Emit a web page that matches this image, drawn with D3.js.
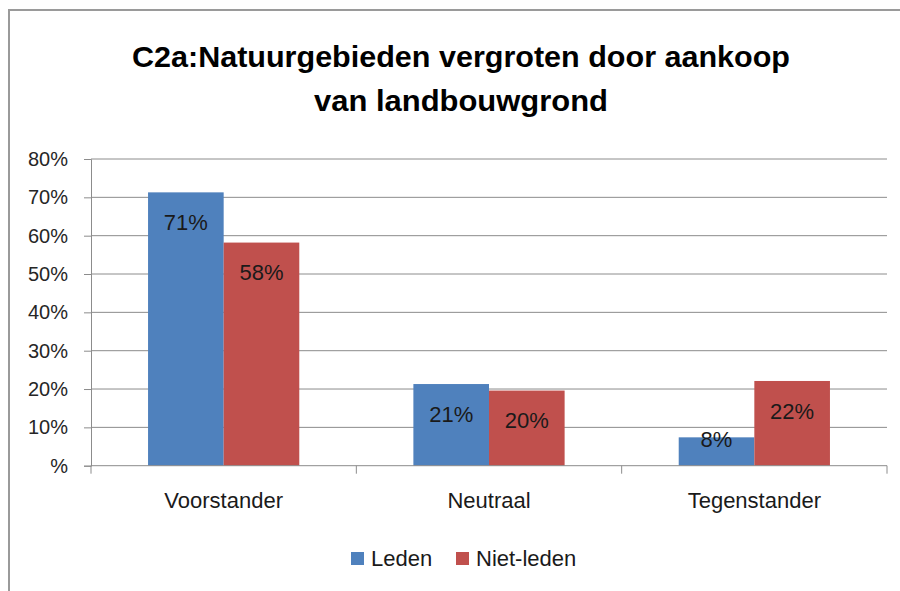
<!DOCTYPE html>
<html>
<head>
<meta charset="utf-8">
<script src="https://cdn.jsdelivr.net/npm/d3@7"></script>
<style>
  body { margin: 0; background: #fff; }
  svg { display: block; font-family: "Liberation Sans", Arial, sans-serif; }
</style>
</head>
<body>
<div id="chart"></div>
<script>
var categories = ["Voorstander", "Neutraal", "Tegenstander"],
    seriesNames = ["Leden", "Niet-leden"],
    leden = [71.3, 21.3, 7.4],
    nietLeden = [58.2, 19.6, 22.1],
    ledenLabels = ["71%", "21%", "8%"],
    nietLedenLabels = ["58%", "20%", "22%"],
    yTicks = [0, 10, 20, 30, 40, 50, 60, 70, 80],
    yTickLabels = ["%", "10%", "20%", "30%", "40%", "50%", "60%", "70%", "80%"],
    colors = ["#4f81bd", "#c0504d"];

var width = 900, height = 591,
    plot = { left: 91, right: 887, top: 159, bottom: 465.7 };

var svg = d3.select("#chart").append("svg")
    .attr("width", width)
    .attr("height", height);

// outer frame (only top and left visible in the picture)
svg.append("path")
    .attr("d", "M9,591 V10 H900")
    .attr("fill", "none")
    .attr("stroke", "#9a9a9a")
    .attr("stroke-width", 2);

// title
var titleLines = [
    { text: "C2a:Natuurgebieden vergroten door aankoop", y: 67, len: 658 },
    { text: "van landbouwgrond", y: 111, len: 294 }
];
svg.selectAll(".title")
    .data(titleLines)
    .enter().append("text")
    .attr("class", "title")
    .attr("x", 461)
    .attr("y", function (d) { return d.y; })
    .attr("text-anchor", "middle")
    .attr("font-size", 30)
    .attr("font-weight", "bold")
    .attr("fill", "#000")
    .attr("textLength", function (d) { return d.len; })
    .attr("lengthAdjust", "spacingAndGlyphs")
    .text(function (d) { return d.text; });

var x0 = d3.scaleBand()
    .domain(categories)
    .range([plot.left, plot.right])
    .paddingInner(0.43)
    .paddingOuter(0.215);

var x1 = d3.scaleBand()
    .domain(seriesNames)
    .range([0, x0.bandwidth()]);

var y = d3.scaleLinear()
    .domain([0, 80])
    .range([plot.bottom, plot.top]);

// gridlines
svg.append("g")
    .selectAll("line")
    .data(yTicks.slice(1))
    .enter().append("line")
    .attr("x1", plot.left)
    .attr("x2", plot.right)
    .attr("y1", function (d) { return y(d); })
    .attr("y2", function (d) { return y(d); })
    .attr("stroke", "#8c8c8c")
    .attr("stroke-width", 1);

// y axis
var yAxis = svg.append("g")
    .attr("transform", "translate(" + plot.left + ",0)")
    .call(d3.axisLeft(y)
        .tickValues(yTicks)
        .tickSize(7)
        .tickPadding(16)
        .tickFormat(function (d, i) { return yTickLabels[i]; }));
yAxis.select(".domain").attr("stroke", "#8c8c8c");
yAxis.selectAll(".tick line").attr("stroke", "#8c8c8c");
yAxis.selectAll(".tick text")
    .attr("font-size", 20)
    .attr("font-family", "Liberation Sans, Arial, sans-serif")
    .attr("fill", "#262626");

// bars
var rows = categories.map(function (c, i) {
    return [
        { cat: c, series: seriesNames[0], value: leden[i], label: ledenLabels[i], color: colors[0] },
        { cat: c, series: seriesNames[1], value: nietLeden[i], label: nietLedenLabels[i], color: colors[1] }
    ];
});

var groups = svg.selectAll(".group")
    .data(rows)
    .enter().append("g")
    .attr("class", "group")
    .attr("transform", function (d) { return "translate(" + x0(d[0].cat) + ",0)"; });

groups.selectAll("rect")
    .data(function (d) { return d; })
    .enter().append("rect")
    .attr("x", function (d) { return x1(d.series); })
    .attr("width", x1.bandwidth())
    .attr("y", function (d) { return y(d.value); })
    .attr("height", function (d) { return y(0) - y(d.value); })
    .attr("fill", function (d) { return d.color; });

groups.selectAll(".label")
    .data(function (d) { return d; })
    .enter().append("text")
    .attr("class", "label")
    .attr("x", function (d) { return x1(d.series) + x1.bandwidth() / 2; })
    .attr("y", function (d) { return Math.min(y(d.value) + 30, y(0) - 26); })
    .attr("dy", "0.35em")
    .attr("text-anchor", "middle")
    .attr("font-size", 22)
    .attr("fill", "#1a1a1a")
    .text(function (d) { return d.label; });

// x axis
var xAxis = svg.append("g")
    .attr("transform", "translate(0," + plot.bottom + ")");
xAxis.append("line")
    .attr("x1", plot.left)
    .attr("x2", plot.right)
    .attr("stroke", "#8c8c8c");
var edges = d3.range(categories.length + 1).map(function (i) {
    return plot.left + i * (plot.right - plot.left) / categories.length;
});
xAxis.selectAll(".sep")
    .data(edges)
    .enter().append("line")
    .attr("class", "sep")
    .attr("x1", function (d) { return d; })
    .attr("x2", function (d) { return d; })
    .attr("y1", 0)
    .attr("y2", 8)
    .attr("stroke", "#8c8c8c");
xAxis.selectAll(".cat")
    .data(categories)
    .enter().append("text")
    .attr("class", "cat")
    .attr("x", function (d) { return x0(d) + x0.bandwidth() / 2; })
    .attr("y", 42)
    .attr("text-anchor", "middle")
    .attr("font-size", 22)
    .attr("fill", "#1a1a1a")
    .text(function (d) { return d; });

// legend
var legend = svg.append("g")
    .attr("transform", "translate(351,552)");
var legendX = [0, 105];
var items = legend.selectAll(".item")
    .data(seriesNames)
    .enter().append("g")
    .attr("class", "item")
    .attr("transform", function (d, i) { return "translate(" + legendX[i] + ",0)"; });
items.append("rect")
    .attr("width", 13)
    .attr("height", 13)
    .attr("fill", function (d, i) { return colors[i]; });
items.append("text")
    .attr("x", 20)
    .attr("y", 6.5)
    .attr("dy", "0.35em")
    .attr("font-size", 22)
    .attr("fill", "#1a1a1a")
    .text(function (d) { return d; });
</script>
</body>
</html>
